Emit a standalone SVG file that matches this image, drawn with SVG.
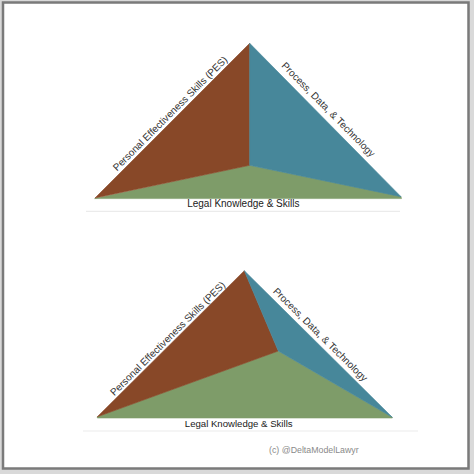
<svg xmlns="http://www.w3.org/2000/svg" width="474" height="474" viewBox="0 0 474 474">
  <style>
    .brown { fill: #884828; stroke: #884828; stroke-width: 0.6; stroke-linejoin: round; }
    .teal { fill: #47879a; stroke: #47879a; stroke-width: 0.6; stroke-linejoin: round; }
    .green { fill: #7e9c69; stroke: #7e9c69; stroke-width: 0.6; stroke-linejoin: round; }
    .lbl { font-family: "Liberation Sans", Arial, sans-serif; font-size: 10px; fill: #333; }
    .base { font-family: "Liberation Sans", Arial, sans-serif; font-size: 10px; fill: #1a1a1a; text-anchor: middle; }
    .sep { stroke: #ebebeb; stroke-width: 1.2; }
    .copy { font-family: "Liberation Sans", Arial, sans-serif; font-size: 8.8px; fill: #8a8a8a; }
  </style>
  <rect x="0" y="0" width="474" height="474" fill="#d9d9d9"/>
  <rect x="3" y="2.5" width="465.5" height="466" fill="#ffffff" stroke="#7a7a7a" stroke-width="2.5"/>

  <g id="top-pyramid">
    <g id="top-legal">
      <polygon class="green" points="94.5,198.6 249.7,165.3 401,196.5 401.5,198.6"/>
      <text class="base" x="243.3" y="207">Legal Knowledge &amp; Skills</text>
    </g>
    <g id="top-pes">
      <polygon class="brown" points="95,198 249.7,43.3 249.7,165.3"/>
      <text class="lbl" text-anchor="middle" transform="translate(172.5,116) rotate(-45)">Personal Effectiveness Skills (PES)</text>
    </g>
    <g id="top-pdt">
      <polygon class="teal" points="249.7,43.3 401,196.7 249.7,165.3"/>
      <text class="lbl" text-anchor="middle" transform="translate(326,112) rotate(45.4)">Process, Data, &amp; Technology</text>
    </g>
    <line class="sep" x1="86" y1="211.3" x2="400" y2="211.3"/>
  </g>

  <g id="bottom-pyramid">
    <g id="bottom-legal">
      <polygon class="green" points="97.3,416.8 278.3,351 392.3,417.3 392.3,418 97.3,418"/>
      <text class="base" x="238.7" y="427" style="font-size:9.6px">Legal Knowledge &amp; Skills</text>
    </g>
    <g id="bottom-pes">
      <polygon class="brown" points="97.3,416.8 244.3,270.7 278.3,351"/>
      <text class="lbl" text-anchor="middle" transform="translate(170,341) rotate(-44.8)">Personal Effectiveness Skills (PES)</text>
    </g>
    <g id="bottom-pdt">
      <polygon class="teal" points="244.3,270.7 392.3,417.3 278.3,351"/>
      <text class="lbl" text-anchor="middle" transform="translate(318,337) rotate(44.7)">Process, Data, &amp; Technology</text>
    </g>
    <line class="sep" x1="83" y1="431" x2="418" y2="431"/>
  </g>

  <g id="connectors"/>

  <text class="copy" x="269" y="452.5">(c)  @DeltaModelLawyr</text>
</svg>
